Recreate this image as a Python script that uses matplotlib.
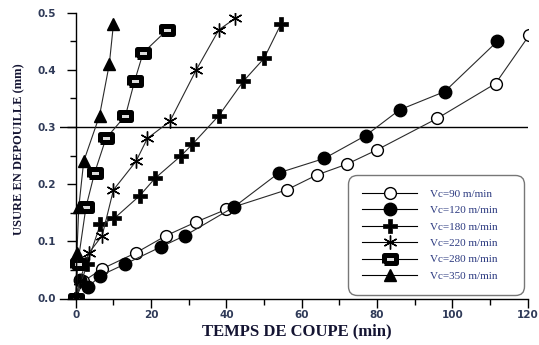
import matplotlib
matplotlib.use("Agg")
import matplotlib.pyplot as plt
from matplotlib.ticker import MultipleLocator, FormatStrFormatter

# ---- data ----
t90 = [0, 2, 7, 16, 24, 32, 40, 56, 64, 72, 80, 96, 111.5, 120.5]
w90 = [0, 0.03, 0.052, 0.08, 0.11, 0.134, 0.156, 0.19, 0.216, 0.235, 0.26, 0.315, 0.376, 0.461]

t120 = [0, 1, 3.3, 6.5, 13, 22.5, 29, 42, 54, 66, 77, 86, 98, 112]
w120 = [0, 0.032, 0.02, 0.04, 0.06, 0.09, 0.11, 0.16, 0.22, 0.245, 0.285, 0.33, 0.362, 0.45]

t180 = [0, 3, 6.5, 10.2, 17, 21, 28, 31, 38, 44.5, 50, 54.5]
w180 = [0, 0.06, 0.13, 0.14, 0.18, 0.21, 0.25, 0.27, 0.32, 0.38, 0.42, 0.48]

t220 = [0, 1, 3.5, 7, 10, 16, 19, 25, 32, 38, 42.3]
w220 = [0, 0.03, 0.08, 0.11, 0.19, 0.24, 0.28, 0.31, 0.40, 0.47, 0.49]

t280 = [0, 0.5, 2.7, 5, 8, 13.2, 15.6, 17.9, 24.3]
w280 = [0, 0.06, 0.16, 0.22, 0.28, 0.32, 0.38, 0.43, 0.47]

t350 = [0, 0.3, 0.8, 2.1, 6.3, 8.9, 10]
w350 = [0, 0.08, 0.16, 0.24, 0.32, 0.41, 0.48]

labels = ["Vc=90 m/min", "Vc=120 m/min", "Vc=180 m/min",
          "Vc=220 m/min", "Vc=280 m/min", "Vc=350 m/min"]
limit_wear = 0.3
xticks = [0, 20, 40, 60, 80, 100, 120]

# ---- figure ----
fig = plt.figure(figsize=(5.39, 3.45), dpi=100)
L, R = 60 / 539, 527.5 / 539
B, T = 1 - 298.5 / 345, 1 - 12.7 / 345
ax = fig.add_axes([L, B, R - L, T - B])

rect = [(-1.25, -0.75), (1.25, -0.75), (1.25, 0.75), (-1.25, 0.75), (-1.25, -0.75)]
lc = "#2a2a2a"
lw = 0.8

ax.plot(t90, w90, color=lc, lw=lw, marker="o", ms=8.5, mfc="white",
        mec="black", mew=1.0, label=labels[0])
ax.plot(t120, w120, color=lc, lw=lw, marker="o", ms=9, mfc="black",
        mec="black", label=labels[1])
ax.plot(t180, w180, color=lc, lw=lw, marker="P", ms=10, mfc="black",
        mec="black", mew=0.5, label=labels[2])
ax.plot(t220, w220, color=lc, lw=lw, marker=(6, 2, 0), ms=10, mfc="black",
        mec="black", mew=1.0, label=labels[3])
ax.plot(t280, w280, color=lc, lw=lw, marker=rect, ms=8.5, mfc="#dddddd",
        mec="black", mew=3.6, label=labels[4])
ax.plot(t350, w350, color=lc, lw=lw, marker="^", ms=8, mfc="black",
        mec="black", label=labels[5])

ax.axhline(limit_wear, color="black", lw=1.0, zorder=0)

ax.set_xlim(-4.2, 120)
ax.set_ylim(0, 0.5)
ax.spines["top"].set_visible(False)
ax.spines["right"].set_visible(False)
ax.spines["left"].set_position(("data", 0))
for s in ("left", "bottom"):
    ax.spines[s].set_linewidth(1.0)
    ax.spines[s].set_color("black")

ax.set_xticks(xticks)
ax.xaxis.set_minor_locator(MultipleLocator(10))
ax.yaxis.set_major_locator(MultipleLocator(0.1))
ax.yaxis.set_minor_locator(MultipleLocator(0.05))
ax.yaxis.set_major_formatter(FormatStrFormatter("%.1f"))

tick_color = "#2f3a58"
ax.tick_params(axis="both", which="major", direction="out", length=6.5,
               width=1.0, colors="black", labelcolor=tick_color,
               labelsize=7.5)
ax.tick_params(axis="both", which="minor", direction="out", length=4,
               width=1.0, colors="black")
ax.tick_params(axis="x", which="major", pad=2)
ax.tick_params(axis="y", which="major", pad=8)
for lab in ax.get_xticklabels() + ax.get_yticklabels():
    lab.set_fontweight("bold")
    lab.set_family("DejaVu Sans")

fig.text(297 / 539, 1 - 331 / 345, "TEMPS DE COUPE (min)",
         ha="center", va="center", family="Liberation Serif",
         fontweight="bold", fontsize=12, color="#141432")
fig.text(19 / 539, 1 - 149 / 345, "USURE EN DEPOUILLE (mm)",
         ha="center", va="center", rotation=90, family="Liberation Serif",
         fontweight="bold", fontsize=9, color="#141432")

leg = ax.legend(loc="upper left", bbox_to_anchor=(0.616, 0.0, 0.3765, 0.432),
                mode="expand", frameon=True, fancybox=True,
                prop={"family": "Liberation Serif", "size": 8},
                labelcolor="#2c3a80", handlelength=5.0, handletextpad=1.1,
                borderpad=1.25, labelspacing=0.6, borderaxespad=0)
fr = leg.get_frame()
fr.set_edgecolor("#777777")
fr.set_linewidth(1.0)
fr.set_alpha(1)
fr.set_boxstyle("round,pad=0,rounding_size=0.8")
for h in leg.legend_handles:
    h.set_color("black")

fig.savefig("out.png", dpi=100)
